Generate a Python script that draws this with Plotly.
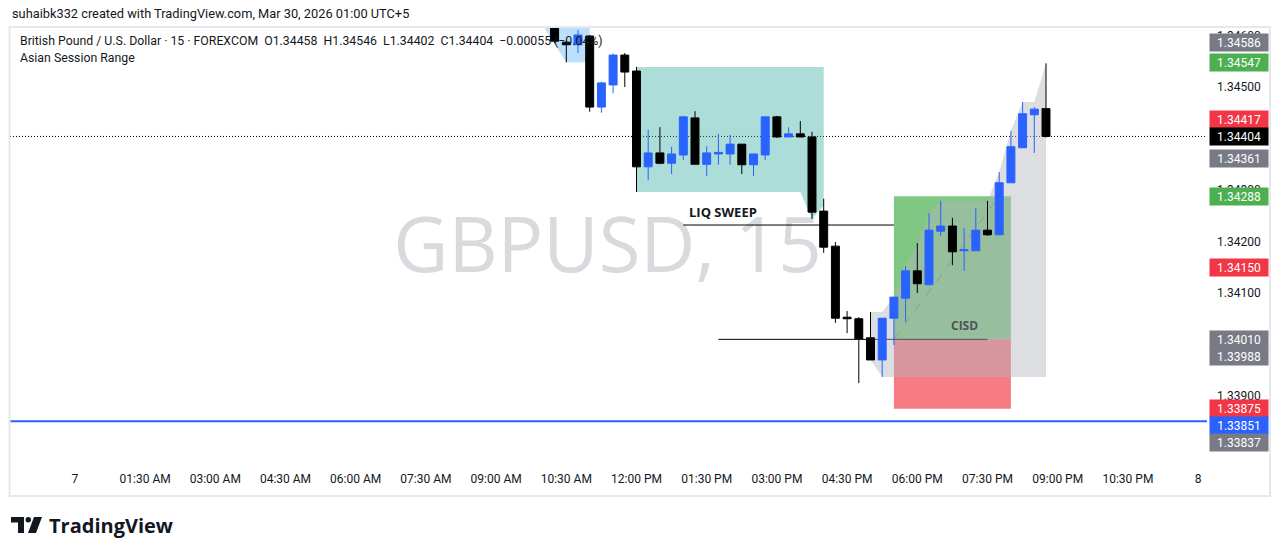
import numpy as np
import plotly.graph_objects as go

# ---------------- data ----------------
bar_times = ["10:15", "10:30", "10:45", "11:00", "11:15", "11:30", "11:45", "12:00",
             "12:15", "12:30", "12:45", "13:00", "13:15", "13:30", "13:45", "14:00",
             "14:15", "14:30", "14:45", "15:00", "15:15", "15:30", "15:45", "16:00",
             "16:15", "16:30", "16:45", "17:00", "17:15", "17:30", "17:45", "18:00",
             "18:15", "18:30", "18:45", "19:00", "19:15", "19:30", "19:45", "20:00",
             "20:15", "20:30", "20:45"]
opens = [1.34630, 1.34587, 1.34582, 1.34599, 1.34461, 1.34504, 1.34562, 1.34531,
         1.34345, 1.34372, 1.34352, 1.34368, 1.34440, 1.34350, 1.34370, 1.34370,
         1.34389, 1.34349, 1.34368, 1.34442, 1.34403, 1.34409, 1.34403, 1.34259,
         1.34191, 1.34053, 1.34050, 1.34013, 1.33970, 1.34051, 1.34090, 1.34143,
         1.34116, 1.34220, 1.34230, 1.34182, 1.34182, 1.34222, 1.34213, 1.34314,
         1.34382, 1.34446, 1.34458]
highs = [1.34640, 1.34590, 1.34611, 1.34601, 1.34510, 1.34565, 1.34566, 1.34539,
         1.34417, 1.34422, 1.34384, 1.34444, 1.34453, 1.34385, 1.34409, 1.34407,
         1.34389, 1.34370, 1.34442, 1.34444, 1.34422, 1.34434, 1.34413, 1.34283,
         1.34199, 1.34065, 1.34053, 1.34063, 1.34051, 1.34092, 1.34152, 1.34197,
         1.34255, 1.34279, 1.34246, 1.34226, 1.34265, 1.34279, 1.34335, 1.34415,
         1.34471, 1.34461, 1.34546]
lows = [1.34585, 1.34548, 1.34566, 1.34452, 1.34450, 1.34488, 1.34500, 1.34296,
        1.34319, 1.34350, 1.34331, 1.34358, 1.34350, 1.34327, 1.34349, 1.34349,
        1.34331, 1.34327, 1.34358, 1.34401, 1.34403, 1.34403, 1.34244, 1.34178,
        1.34042, 1.34022, 1.33925, 1.33970, 1.33937, 1.33999, 1.34044, 1.34100,
        1.34116, 1.34211, 1.34154, 1.34143, 1.34182, 1.34211, 1.34213, 1.34314,
        1.34382, 1.34372, 1.34402]
closes = [1.34589, 1.34582, 1.34601, 1.34461, 1.34508, 1.34562, 1.34529, 1.34345,
          1.34372, 1.34352, 1.34370, 1.34442, 1.34350, 1.34372, 1.34373, 1.34389,
          1.34349, 1.34370, 1.34442, 1.34403, 1.34409, 1.34403, 1.34257, 1.34189,
          1.34051, 1.34050, 1.34011, 1.33970, 1.34051, 1.34092, 1.34143, 1.34118,
          1.34222, 1.34230, 1.34180, 1.34184, 1.34222, 1.34213, 1.34314, 1.34384,
          1.34448, 1.34457, 1.34404]

# earlier session fill (light blue, mostly above the visible range)
prev_times = ["10:00", "10:15", "10:30", "10:45", "11:00"]
prev_high = [1.34750, 1.34750, 1.34750, 1.34750, 1.34750]
prev_low = [1.34620, 1.34583, 1.34548, 1.34548, 1.34548]

# Asian session range fill (teal)
asia_times = ["12:00", "12:15", "12:30", "12:45", "13:00", "13:15", "13:30", "13:45",
              "14:00", "14:15", "14:30", "14:45", "15:00", "15:15", "15:30", "15:45", "16:00"]
asia_high = [1.34539, 1.34539, 1.34539, 1.34539, 1.34539, 1.34539, 1.34539, 1.34539,
             1.34539, 1.34539, 1.34539, 1.34539, 1.34539, 1.34539, 1.34539, 1.34539, 1.34539]
asia_low = [1.34296, 1.34296, 1.34296, 1.34296, 1.34296, 1.34296, 1.34296, 1.34296,
            1.34296, 1.34296, 1.34296, 1.34296, 1.34296, 1.34296, 1.34296, 1.34244, 1.34270]

# later session (gray) starts at this bar; its range grows with the candles
late_session_start = "17:00"

# drawings
liq_level, liq_from, liq_to = 1.34232, "13:00", "17:30"
cisd_level, cisd_from, cisd_to = 1.34010, "13:45", "19:30"
pos_from, pos_to = "17:30", "20:00"
pos_target, pos_entry, pos_stop = 1.34288, 1.34010, 1.33875
pos_hit_time = "19:45"
last_price = 1.34404
blue_level = 1.33851

badge_values = [1.34586, 1.34547, 1.34417, 1.34404, 1.34361, 1.34288, 1.34150,
                1.34010, 1.33988, 1.33875, 1.33851, 1.33837]
badge_colors = ["#787b86", "#4caf50", "#f23645", "#000000", "#787b86", "#4caf50", "#f23645",
                "#787b86", "#787b86", "#f23645", "#2962ff", "#787b86"]
badge_anchor = [False, False, False, True, False, False, False,
                True, False, False, False, False]   # labels that keep their exact place

x_tick_times = ["00:00", "01:30", "03:00", "04:30", "06:00", "07:30", "09:00", "10:30",
                "12:00", "13:30", "15:00", "16:30", "18:00", "19:30", "21:00", "22:30", "24:00"]
x_tick_labels = ["7", "01:30 AM", "03:00 AM", "04:30 AM", "06:00 AM", "07:30 AM", "09:00 AM",
                 "10:30 AM", "12:00 PM", "01:30 PM", "03:00 PM", "04:30 PM", "06:00 PM",
                 "07:30 PM", "09:00 PM", "10:30 PM", "8"]
y_tick_values = [1.339, 1.340, 1.341, 1.342, 1.343, 1.344, 1.345, 1.346]

# ---------------- layout geometry ----------------
W_FIG, H_FIG = 1281, 556
M_L, M_R, M_T, M_B = 10, 74, 28, 86
PW = W_FIG - M_L - M_R
PH = H_FIG - M_T - M_B
Y_RANGE = [1.3375631, 1.3461456]
X_RANGE = [-83.2, 1451.4]          # minutes after midnight of day 7


def T(hhmm):
    h, m = hhmm.split(":")
    return int(h) * 60 + int(m)


def pxx(p):
    return (p - M_L) / PW


def pxy(p):
    return (H_FIG - M_B - p) / PH


FONT = "Roboto, Open Sans, sans-serif"
BOLD_FONT = "Open Sans, Roboto, sans-serif"
TXT = "#131722"

x_bars = [T(t) for t in bar_times]
fig = go.Figure()

fig.add_trace(go.Candlestick(
    x=x_bars, open=opens, high=highs, low=lows, close=closes,
    increasing=dict(line=dict(color="#2962ff", width=1), fillcolor="#2962ff"),
    decreasing=dict(line=dict(color="#000000", width=1), fillcolor="#000000"),
    whiskerwidth=0, hoverinfo="skip", showlegend=False))


def fill_path(times, top, bot):
    pts = list(zip(times, top)) + list(zip(times, bot))[::-1]
    return "M" + " L".join(f"{x},{y}" for x, y in pts) + " Z"


shapes = []
# watermark (drawn under everything)
shapes.append(dict(type="rect", xref="paper", yref="paper", x0=pxx(380), x1=pxx(835),
                   y0=pxy(290), y1=pxy(205), line=dict(width=0), fillcolor="rgba(0,0,0,0)",
                   layer="below",
                   label=dict(text="GBPUSD, 15", textposition="middle center",
                              font=dict(family="Open Sans, sans-serif", size=76,
                                        color="rgba(178,181,190,0.50)"))))
# position tool rectangles
shapes.append(dict(type="rect", xref="x", yref="y", x0=T(pos_from), x1=T(pos_to),
                   y0=pos_entry, y1=pos_target, fillcolor="rgba(76,175,80,0.70)",
                   line=dict(width=0), layer="below"))
shapes.append(dict(type="rect", xref="x", yref="y", x0=T(pos_from), x1=T(pos_to),
                   y0=pos_stop, y1=pos_entry, fillcolor="rgba(242,54,69,0.66)",
                   line=dict(width=0), layer="below"))
shapes.append(dict(type="line", xref="x", yref="y", x0=T(pos_from), x1=T(pos_hit_time),
                   y0=pos_entry, y1=pos_target, line=dict(color="#787b86", width=1, dash="dash"),
                   layer="below"))
# horizontal drawing lines
shapes.append(dict(type="line", xref="x", yref="y", x0=T(liq_from), x1=T(liq_to),
                   y0=liq_level, y1=liq_level, line=dict(color="#000000", width=1), layer="below"))
shapes.append(dict(type="line", xref="x", yref="y", x0=T(cisd_from), x1=T(cisd_to),
                   y0=cisd_level, y1=cisd_level, line=dict(color="#000000", width=1), layer="below"))
shapes.append(dict(type="line", xref="paper", yref="y", x0=0, x1=1,
                   y0=blue_level, y1=blue_level, line=dict(color="#2962ff", width=2), layer="below"))

# session fills
shapes.append(dict(type="path", xref="x", yref="y", layer="below", line=dict(width=0),
                   fillcolor="rgba(33,150,243,0.30)",
                   path=fill_path([T(t) for t in prev_times], prev_high, prev_low)))
shapes.append(dict(type="path", xref="x", yref="y", layer="below", line=dict(width=0),
                   fillcolor="rgba(38,166,154,0.38)",
                   path=fill_path([T(t) for t in asia_times], asia_high, asia_low)))
si = bar_times.index(late_session_start)
late_hi = np.maximum.accumulate(np.array(highs[si:]))
late_lo = np.minimum.accumulate(np.array(lows[si:]))
shapes.append(dict(type="path", xref="x", yref="y", layer="below", line=dict(width=0),
                   fillcolor="rgba(178,181,190,0.45)",
                   path=fill_path(x_bars[si:], late_hi, late_lo)))

# current price dotted line
shapes.append(dict(type="line", xref="paper", yref="y", x0=0, x1=1,
                   y0=last_price, y1=last_price,
                   line=dict(color="#000000", width=1, dash="1px,2px"), layer="below"))
# chart frame
shapes.append(dict(type="rect", xref="paper", yref="paper", x0=pxx(9.5), x1=pxx(1270),
                   y0=pxy(496), y1=pxy(27), line=dict(color="#e6e8ee", width=2),
                   fillcolor="rgba(0,0,0,0)", layer="below"))
# TradingView logo mark
shapes.append(dict(type="path", xref="paper", yref="paper",
                   path=f"M{pxx(11)},{pxy(517)} L{pxx(24)},{pxy(517)} L{pxx(24)},{pxy(533)} "
                        f"L{pxx(18)},{pxy(533)} L{pxx(18)},{pxy(522.5)} L{pxx(11)},{pxy(522.5)} Z",
                   fillcolor="#131722", line=dict(width=0)))
shapes.append(dict(type="circle", xref="paper", yref="paper", x0=pxx(25.5), x1=pxx(31),
                   y0=pxy(522.5), y1=pxy(517), fillcolor="#131722", line=dict(width=0)))
shapes.append(dict(type="path", xref="paper", yref="paper",
                   path=f"M{pxx(34)},{pxy(517)} L{pxx(42)},{pxy(517)} L{pxx(36)},{pxy(533)} "
                        f"L{pxx(28)},{pxy(533)} Z",
                   fillcolor="#131722", line=dict(width=0)))

annotations = []
# header texts
annotations.append(dict(xref="paper", yref="paper", x=pxx(10), y=pxy(14), xanchor="left",
                        yanchor="middle", showarrow=False,
                        text="suhaibk332 created with TradingView.com, Mar 30, 2026 01:00 UTC+5",
                        font=dict(family=FONT, size=12.8, color=TXT)))
annotations.append(dict(xref="paper", yref="paper", x=pxx(18), y=pxy(41), xanchor="left",
                        yanchor="middle", showarrow=False,
                        text="British Pound / U.S. Dollar · 15 · FOREXCOM  O1.34458  H1.34546  "
                             "L1.34402  C1.34404  −0.00055 (−0.04%)",
                        font=dict(family=FONT, size=12.3, color=TXT)))
annotations.append(dict(xref="paper", yref="paper", x=pxx(18), y=pxy(58), xanchor="left",
                        yanchor="middle", showarrow=False, text="Asian Session Range",
                        font=dict(family=FONT, size=12.3, color=TXT)))
# drawing labels
annotations.append(dict(xref="x", yref="y", x=T(liq_from), y=liq_level, xanchor="left",
                        yanchor="middle", xshift=4, yshift=13, showarrow=False,
                        text="<b>LIQ SWEEP</b>", font=dict(family=BOLD_FONT, size=13, color=TXT)))
annotations.append(dict(xref="x", yref="y", x=T("19:00"), y=cisd_level, xanchor="center",
                        yanchor="middle", yshift=14, showarrow=False,
                        text="<b>CISD</b>", font=dict(family=BOLD_FONT, size=12, color="#50525a")))
# logo text
annotations.append(dict(xref="paper", yref="paper", x=pxx(47), y=pxy(525), xanchor="left",
                        yanchor="middle", showarrow=False, text="<b>TradingView</b>",
                        font=dict(family=BOLD_FONT, size=20, color=TXT)))

# price badges on the right axis, spread apart around the anchored labels
px_per_price = PH / (Y_RANGE[1] - Y_RANGE[0])
BADGE_H = 17
order = list(np.argsort(badge_values)[::-1])          # top to bottom
pos = {i: (Y_RANGE[1] - badge_values[i]) * px_per_price for i in order}
for k in range(1, len(order)):                        # push down below the label above
    i, j = order[k], order[k - 1]
    if not badge_anchor[i]:
        pos[i] = max(pos[i], pos[j] + BADGE_H)
for k in range(len(order) - 2, -1, -1):               # push up above an anchored label
    i, j = order[k], order[k + 1]
    if badge_anchor[j] and not badge_anchor[i]:
        pos[i] = min(pos[i], pos[j] - BADGE_H)
for i in order:
    y_val = Y_RANGE[1] - pos[i] / px_per_price
    annotations.append(dict(xref="paper", yref="y", x=pxx(1239), y=y_val, xanchor="center",
                            yanchor="middle", showarrow=False, text=f"{badge_values[i]:.5f}",
                            bgcolor=badge_colors[i], width=56, height=15, borderpad=1,
                            font=dict(family=FONT, size=12, color="#ffffff")))

fig.update_layout(
    width=W_FIG, height=H_FIG,
    margin=dict(l=M_L, r=M_R, t=M_T, b=M_B, autoexpand=False),
    paper_bgcolor="#ffffff", plot_bgcolor="#ffffff",
    showlegend=False, shapes=shapes, annotations=annotations,
    font=dict(family=FONT, color=TXT),
    boxgap=0.2, boxgroupgap=0.15,
    xaxis=dict(range=X_RANGE, rangeslider=dict(visible=False),
               tickvals=[T(t) for t in x_tick_times], ticktext=x_tick_labels,
               showgrid=False, zeroline=False, showline=False, ticks="",
               tickfont=dict(family=FONT, size=12, color=TXT)),
    yaxis=dict(side="right", range=Y_RANGE, tickvals=y_tick_values,
               ticktext=[f"{v:.5f}" for v in y_tick_values], showgrid=False, zeroline=False,
               showline=False, ticks="", ticklabelstandoff=9,
               tickfont=dict(family=FONT, size=12, color=TXT)),
)

fig.write_html("out.html", config={"displayModeBar": False},
               post_script="document.body.style.margin='0';")
